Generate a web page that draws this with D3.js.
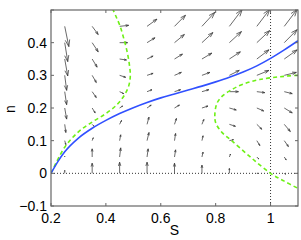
<!DOCTYPE html>
<html>
<head>
<meta charset="utf-8">
<script src="https://cdn.jsdelivr.net/npm/d3@7"></script>
<style>
  html, body { margin: 0; padding: 0; background: #fff; }
  svg { display: block; }
  text { font-family: "Liberation Sans", Arial, Helvetica, sans-serif; fill: #000; }
</style>
</head>
<body>
<div id="chart"></div>
<script>
// quiver grid
const sGrid = [0.25, 0.35, 0.45, 0.55, 0.65, 0.75, 0.85, 0.95, 1.05];
const nGrid = [0, 0.05, 0.1, 0.15, 0.2, 0.25, 0.3, 0.35, 0.4, 0.45];

// arrow components (data units), one row per n value, bottom to top
const dS = [
  [0, 0, 0, 0, 0, 0, 0, 0.004, 0.004],
  [0, 0, 0.004, 0.004, 0.004, 0.004, 0.004, 0.007, 0.007],
  [0.004, 0.004, 0.004, 0.007, 0.004, 0.004, 0.015, 0.011, 0.015],
  [0.004, 0.007, 0.007, 0.007, 0.007, 0.007, 0.022, 0.018, 0.022],
  [0.007, 0.011, 0.011, 0.015, 0.018, 0.022, 0.025, 0.025, 0.029],
  [0.007, 0.015, 0.015, 0.018, 0.022, 0.025, 0.033, 0.029, 0.029],
  [0.007, 0.015, 0.022, 0.022, 0.025, 0.029, 0.036, 0.044, 0.044],
  [0.011, 0.018, 0.025, 0.022, 0.029, 0.036, 0.040, 0.044, 0.047],
  [0.011, 0.022, 0.029, 0.029, 0.036, 0.040, 0.044, 0.047, 0.047],
  [0.015, 0.022, 0.033, 0.036, 0.040, 0.047, 0.047, 0.047, 0.047]
];
const dN = [
  [0.009, 0.031, 0.034, 0.034, 0.031, 0.025, 0.015, 0, -0.003],
  [0.003, 0.025, 0.028, 0.025, 0.022, 0.015, 0.009, -0.006, -0.009],
  [-0.012, 0.009, 0.018, 0.025, 0.022, 0.015, 0.003, -0.015, -0.018],
  [-0.025, -0.006, 0.012, 0.022, 0.018, 0.015, -0.006, -0.015, -0.022],
  [-0.034, -0.015, 0.006, 0.009, 0.009, 0.006, -0.006, -0.009, -0.015],
  [-0.040, -0.018, -0.006, 0.006, 0.006, 0.006, 0, -0.003, -0.006],
  [-0.046, -0.022, -0.006, 0.006, 0.009, 0.009, 0.015, 0.015, 0.009],
  [-0.052, -0.025, -0.003, 0.009, 0.015, 0.018, 0.022, 0.028, 0.028],
  [-0.058, -0.028, 0, 0.015, 0.025, 0.031, 0.034, 0.037, 0.040],
  [-0.062, -0.025, 0.003, 0.022, 0.034, 0.043, 0.052, 0.052, 0.052]
];

// blue curve
const blueS = [0.2, 0.225, 0.25, 0.3, 0.35, 0.4, 0.45, 0.5, 0.55, 0.6, 0.65, 0.7, 0.75, 0.8, 0.85, 0.9, 0.95, 1.0, 1.05, 1.1];
const blueN = [0, 0.036, 0.066, 0.108, 0.138, 0.162, 0.183, 0.201, 0.217, 0.231, 0.243, 0.255, 0.267, 0.28, 0.294, 0.31, 0.329, 0.352, 0.378, 0.406];

// green dashed curves
const greenAS = [0.2, 0.25, 0.3, 0.35, 0.4, 0.44, 0.468, 0.484, 0.489, 0.486, 0.478, 0.466, 0.452, 0.437, 0.425];
const greenAN = [0, 0.08, 0.127, 0.157, 0.183, 0.21, 0.24, 0.27, 0.30, 0.33, 0.37, 0.41, 0.45, 0.48, 0.503];
const greenBS = [1.1, 1.05, 0.96, 0.90, 0.858, 0.825, 0.805, 0.797, 0.80, 0.82, 0.858, 0.925, 1.0, 1.05, 1.1];
const greenBN = [0.30, 0.297, 0.287, 0.273, 0.256, 0.237, 0.215, 0.18, 0.155, 0.128, 0.10, 0.051, 0, -0.024, -0.046];

const xTicks = [0.2, 0.4, 0.6, 0.8, 1];
const yTicks = [-0.1, 0, 0.1, 0.2, 0.3, 0.4, 0.5];
const yLabels = [-0.1, 0, 0.1, 0.2, 0.3, 0.4];

const W = 301, H = 240;
const margin = { top: 10, right: 3, bottom: 34, left: 51 };
const width = W - margin.left - margin.right;
const height = H - margin.top - margin.bottom;

const svg = d3.select("#chart").append("svg")
    .attr("width", W)
    .attr("height", H);

const g = svg.append("g")
    .attr("transform", `translate(${margin.left},${margin.top})`);

const x = d3.scaleLinear().domain([0.2, 1.1]).range([0, width]);
const y = d3.scaleLinear().domain([-0.1, 0.5]).range([height, 0]);

g.append("clipPath").attr("id", "plot-clip")
    .append("rect").attr("width", width).attr("height", height);

const plot = g.append("g").attr("clip-path", "url(#plot-clip)");

// dotted reference lines
plot.append("line")
    .attr("x1", 0).attr("x2", width)
    .attr("y1", y(0)).attr("y2", y(0))
    .attr("stroke", "#333").attr("stroke-width", 1)
    .attr("stroke-dasharray", "1,2");
plot.append("line")
    .attr("x1", x(1)).attr("x2", x(1))
    .attr("y1", 0).attr("y2", height)
    .attr("stroke", "#333").attr("stroke-width", 1)
    .attr("stroke-dasharray", "1,2");

// quiver arrows
const arrows = [];
nGrid.forEach((n, i) => {
    sGrid.forEach((s, j) => {
        arrows.push({ s: s, n: n, u: dS[i][j], v: dN[i][j] });
    });
});

function arrowPath(d) {
    const x0 = x(d.s), y0 = y(d.n);
    const x1 = x(d.s + d.u), y1 = y(d.n + d.v);
    const ux = x1 - x0, uy = y1 - y0;
    const a = 0.33, b = 0.33;
    const hx1 = x1 - a * (ux + b * uy), hy1 = y1 - a * (uy - b * ux);
    const hx2 = x1 - a * (ux - b * uy), hy2 = y1 - a * (uy + b * ux);
    return `M${x0},${y0}L${x1},${y1}M${hx1},${hy1}L${x1},${y1}L${hx2},${hy2}`;
}

plot.append("g")
    .selectAll("path")
    .data(arrows)
    .enter()
    .append("path")
    .attr("d", arrowPath)
    .attr("fill", "none")
    .attr("stroke", "#383838")
    .attr("stroke-width", 0.75);

// curves
const line = d3.line()
    .x(d => x(d[0]))
    .y(d => y(d[1]))
    .curve(d3.curveCatmullRom.alpha(0.5));

plot.append("path")
    .datum(greenAS.map((s, i) => [s, greenAN[i]]))
    .attr("d", line)
    .attr("fill", "none")
    .attr("stroke", "#6ef016")
    .attr("stroke-width", 1.6)
    .attr("stroke-dasharray", "4,3");

plot.append("path")
    .datum(greenBS.map((s, i) => [s, greenBN[i]]))
    .attr("d", line)
    .attr("fill", "none")
    .attr("stroke", "#6ef016")
    .attr("stroke-width", 1.6)
    .attr("stroke-dasharray", "4,3");

plot.append("path")
    .datum(blueS.map((s, i) => [s, blueN[i]]))
    .attr("d", line.curve(d3.curveMonotoneX))
    .attr("fill", "none")
    .attr("stroke", "#3050ff")
    .attr("stroke-width", 1.6);

// axes box with inward ticks
const axisColor = "#666";
g.append("rect")
    .attr("width", width).attr("height", height)
    .attr("fill", "none")
    .attr("stroke", axisColor)
    .attr("stroke-width", 1.2);

const tickLen = 3;
xTicks.forEach(t => {
    g.append("line").attr("x1", x(t)).attr("x2", x(t))
        .attr("y1", height).attr("y2", height - tickLen)
        .attr("stroke", axisColor);
    g.append("line").attr("x1", x(t)).attr("x2", x(t))
        .attr("y1", 0).attr("y2", tickLen)
        .attr("stroke", axisColor);
});
yTicks.forEach(t => {
    g.append("line").attr("x1", 0).attr("x2", tickLen)
        .attr("y1", y(t)).attr("y2", y(t))
        .attr("stroke", axisColor);
    g.append("line").attr("x1", width).attr("x2", width - tickLen)
        .attr("y1", y(t)).attr("y2", y(t))
        .attr("stroke", axisColor);
});

// tick labels
g.append("g")
    .selectAll("text")
    .data(xTicks)
    .enter()
    .append("text")
    .attr("x", d => x(d))
    .attr("y", height + 17)
    .attr("text-anchor", "middle")
    .style("font-size", "14px")
    .text(d => String(d));

g.append("g")
    .selectAll("text")
    .data(yLabels)
    .enter()
    .append("text")
    .attr("x", -4)
    .attr("y", d => y(d) + 5)
    .attr("text-anchor", "end")
    .style("font-size", "14px")
    .text(d => d < 0 ? "\u2212" + Math.abs(d) : String(d));

// axis labels
g.append("text")
    .attr("x", x(0.65))
    .attr("y", height + 29)
    .attr("text-anchor", "middle")
    .style("font-size", "14px")
    .text("S");

g.append("text")
    .attr("transform", `translate(${15 - margin.left},${109 - margin.top}) rotate(-90)`)
    .attr("text-anchor", "middle")
    .style("font-size", "14px")
    .text("n");
</script>
</body>
</html>
